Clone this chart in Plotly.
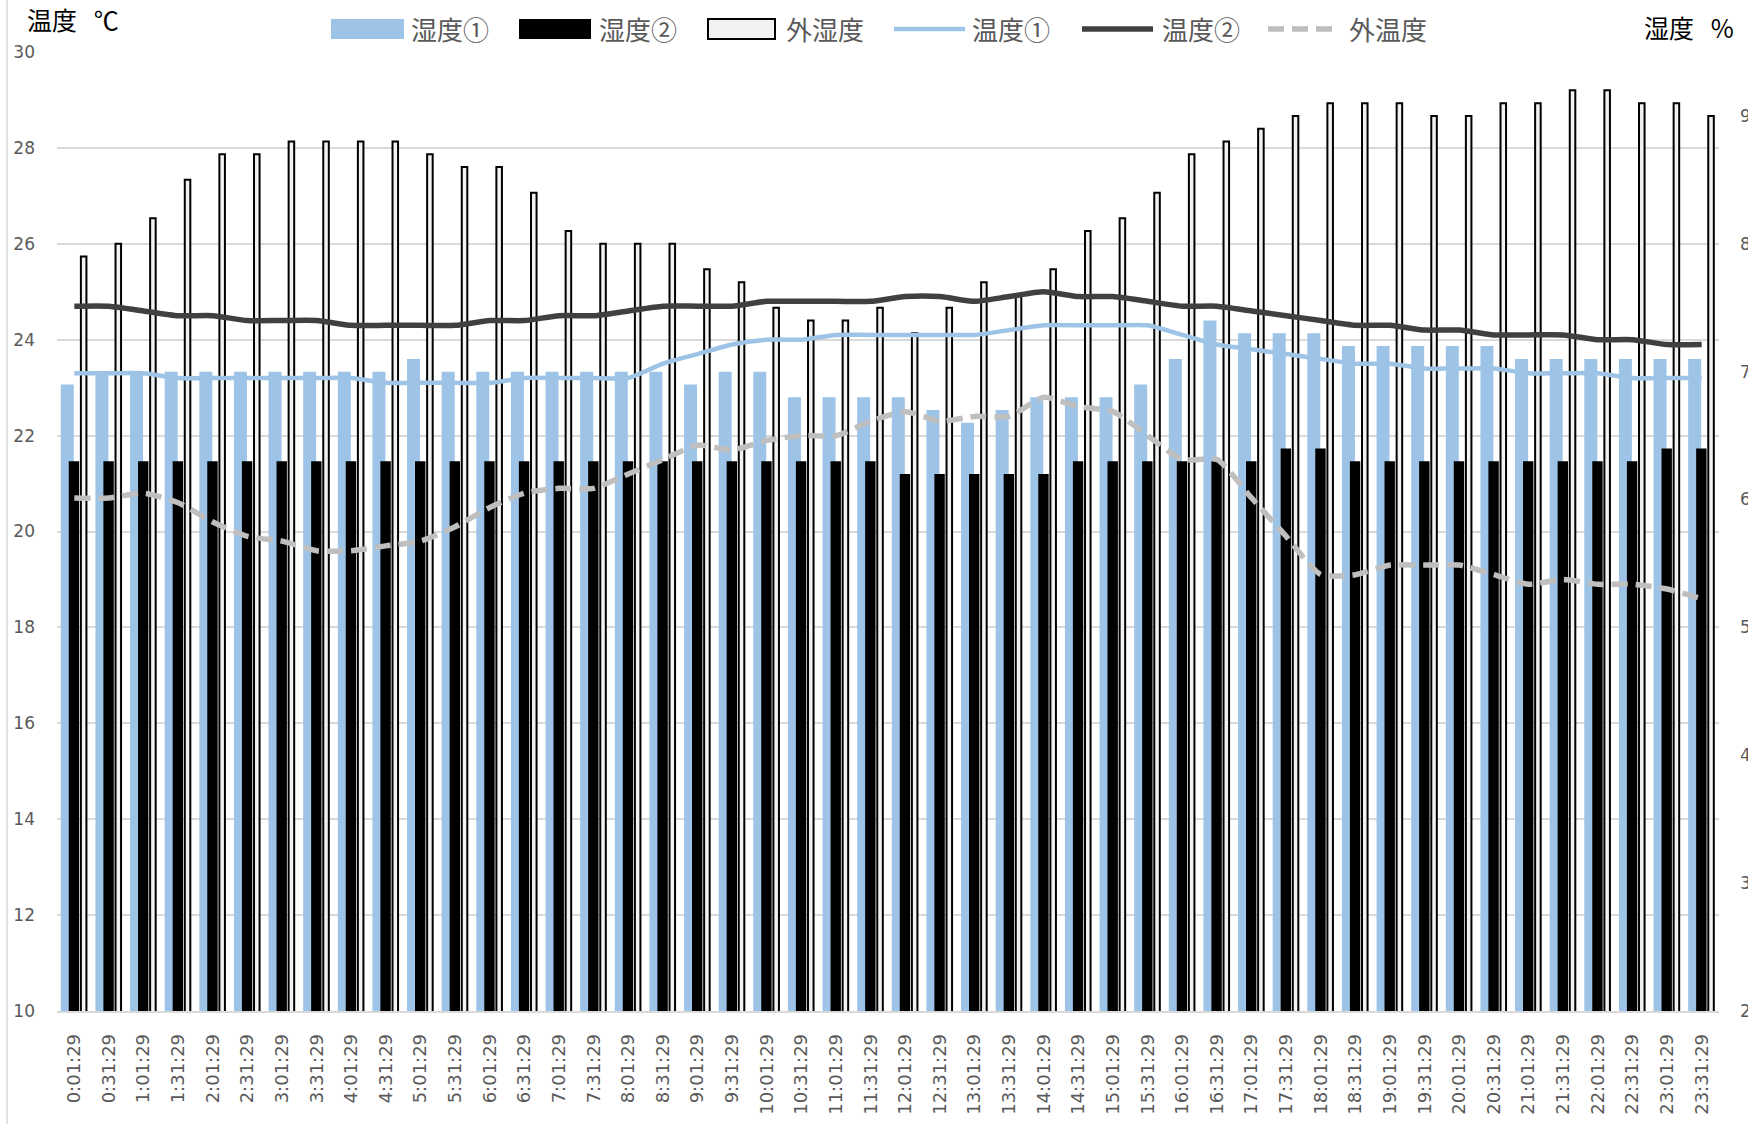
import plotly.graph_objects as go

# ---- data -------------------------------------------------------------
times = [
    "0:01:29", "0:31:29", "1:01:29", "1:31:29", "2:01:29", "2:31:29",
    "3:01:29", "3:31:29", "4:01:29", "4:31:29", "5:01:29", "5:31:29",
    "6:01:29", "6:31:29", "7:01:29", "7:31:29", "8:01:29", "8:31:29",
    "9:01:29", "9:31:29", "10:01:29", "10:31:29", "11:01:29", "11:31:29",
    "12:01:29", "12:31:29", "13:01:29", "13:31:29", "14:01:29", "14:31:29",
    "15:01:29", "15:31:29", "16:01:29", "16:31:29", "17:01:29", "17:31:29",
    "18:01:29", "18:31:29", "19:01:29", "19:31:29", "20:01:29", "20:31:29",
    "21:01:29", "21:31:29", "22:01:29", "22:31:29", "23:01:29", "23:31:29",
]

# humidity (%), right axis
hum1 = [69, 70, 70, 70, 70, 70, 70, 70, 70, 70, 71, 70, 70, 70, 70, 70,
        70, 70, 69, 70, 70, 68, 68, 68, 68, 67, 66, 67, 68, 68, 68, 69,
        71, 74, 73, 73, 73, 72, 72, 72, 72, 72, 71, 71, 71, 71, 71, 71]
hum2 = [63, 63, 63, 63, 63, 63, 63, 63, 63, 63, 63, 63, 63, 63, 63, 63,
        63, 63, 63, 63, 63, 63, 63, 63, 62, 62, 62, 62, 62, 63, 63, 63,
        63, 63, 63, 64, 64, 63, 63, 63, 63, 63, 63, 63, 63, 63, 64, 64]
hum_out = [79, 80, 82, 85, 87, 87, 88, 88, 88, 88, 87, 86, 86, 84, 81, 80,
           80, 80, 78, 77, 75, 74, 74, 75, 73, 75, 77, 76, 78, 81, 82, 84,
           87, 88, 89, 90, 91, 91, 91, 90, 90, 91, 91, 92, 92, 91, 91, 90]

# temperature (°C), left axis
temp1 = [23.3, 23.3, 23.3, 23.2, 23.2, 23.2, 23.2, 23.2, 23.2, 23.1, 23.1, 23.1,
         23.1, 23.2, 23.2, 23.2, 23.2, 23.5, 23.7, 23.9, 24.0, 24.0, 24.1, 24.1,
         24.1, 24.1, 24.1, 24.2, 24.3, 24.3, 24.3, 24.3, 24.1, 23.9, 23.8, 23.7,
         23.6, 23.5, 23.5, 23.4, 23.4, 23.4, 23.3, 23.3, 23.3, 23.2, 23.2, 23.2]
temp2 = [24.7, 24.7, 24.6, 24.5, 24.5, 24.4, 24.4, 24.4, 24.3, 24.3, 24.3, 24.3,
         24.4, 24.4, 24.5, 24.5, 24.6, 24.7, 24.7, 24.7, 24.8, 24.8, 24.8, 24.8,
         24.9, 24.9, 24.8, 24.9, 25.0, 24.9, 24.9, 24.8, 24.7, 24.7, 24.6, 24.5,
         24.4, 24.3, 24.3, 24.2, 24.2, 24.1, 24.1, 24.1, 24.0, 24.0, 23.9, 23.9]
temp_out = [20.7, 20.7, 20.8, 20.6, 20.2, 19.9, 19.8, 19.6, 19.6, 19.7, 19.8, 20.1,
            20.5, 20.8, 20.9, 20.9, 21.2, 21.5, 21.8, 21.7, 21.9, 22.0, 22.0, 22.3,
            22.5, 22.3, 22.4, 22.4, 22.8, 22.6, 22.5, 22.0, 21.5, 21.5, 20.7, 19.9,
            19.1, 19.1, 19.3, 19.3, 19.3, 19.1, 18.9, 19.0, 18.9, 18.9, 18.8, 18.6]

# ---- layout geometry (pixels) -------------------------------------------
W, H = 1748, 1124
PL, PR, PT, PB = 57, 1719, 52, 1011   # plot area edges


def px(x):
    return (x - PL) / (PR - PL)


def py(y):
    return (PB - y) / (PB - PT)


BLUE = "#9DC3E6"
DARK = "#404040"
GREY = "#BFBFBF"
TXT = "#595959"
GRID = "#D9D9D9"
JP = "Noto Sans CJK JP"
NUM = "DejaVu Sans"

fig = go.Figure()

# humidity bars (primary y, drawn underneath)
fig.add_bar(x=times, y=hum1, name="湿度①", yaxis="y",
            marker=dict(color=BLUE, line_width=0),
            offset=-0.39, width=0.375, showlegend=False)
fig.add_bar(x=times, y=hum2, name="湿度②", yaxis="y",
            marker=dict(color="#000000", line_width=0),
            offset=-0.16, width=0.30, showlegend=False)
fig.add_bar(x=times, y=hum_out, name="外湿度", yaxis="y",
            marker=dict(color="#F2F2F2", line=dict(color="#000000", width=2)),
            offset=0.19, width=0.16, showlegend=False)

# temperature lines (overlay axis, drawn on top)
fig.add_scatter(x=times, y=temp1, name="温度①", yaxis="y2", mode="lines",
                line=dict(color=BLUE, width=4.5, shape="spline", smoothing=0.6),
                showlegend=False)
fig.add_scatter(x=times, y=temp2, name="温度②", yaxis="y2", mode="lines",
                line=dict(color=DARK, width=5.5, shape="spline", smoothing=0.6),
                showlegend=False)
fig.add_scatter(x=times, y=temp_out, name="外温度", yaxis="y2", mode="lines",
                line=dict(color=GREY, width=5.5, dash="16px,8px",
                          shape="spline", smoothing=0.6),
                showlegend=False)

shapes = []
annotations = []

# legend row
key_y0, key_y1, key_mid = 39, 19, 29
bar_keys = [
    (331, 404, BLUE, None, "湿度①", 409),
    (519, 591, "#000000", None, "湿度②", 597),
    (708, 775, "#F2F2F2", "#000000", "外湿度", 784),
]
for x0, x1, fill, edge, label, tx in bar_keys:
    shapes.append(dict(type="rect", xref="paper", yref="paper",
                       x0=px(x0), x1=px(x1), y0=py(key_y0), y1=py(key_y1),
                       fillcolor=fill,
                       line=dict(color=edge if edge else fill,
                                 width=2 if edge else 0)))
    annotations.append(dict(text=label, xref="paper", yref="paper",
                            x=px(tx), y=py(key_mid), xanchor="left",
                            yanchor="middle", showarrow=False,
                            font=dict(family=JP, size=26, color=TXT)))

line_keys = [
    (894, 965, BLUE, 4.5, "solid", "温度①", 970),
    (1082, 1153, DARK, 5.5, "solid", "温度②", 1160),
    (1268, 1333, GREY, 5.5, "16px,8px", "外温度", 1347),
]
for x0, x1, col, wd, dash, label, tx in line_keys:
    shapes.append(dict(type="line", xref="paper", yref="paper",
                       x0=px(x0), x1=px(x1), y0=py(key_mid), y1=py(key_mid),
                       line=dict(color=col, width=wd, dash=dash)))
    annotations.append(dict(text=label, xref="paper", yref="paper",
                            x=px(tx), y=py(key_mid), xanchor="left",
                            yanchor="middle", showarrow=False,
                            font=dict(family=JP, size=26, color=TXT)))

# axis titles
annotations.append(dict(text="温度\u00a0\u00a0\u00a0℃", xref="paper", yref="paper",
                        x=px(25), y=py(19), xanchor="left", yanchor="middle",
                        showarrow=False,
                        font=dict(family=JP, size=25, color="#000000")))
annotations.append(dict(text="湿度\u00a0\u00a0\u00a0%", xref="paper", yref="paper",
                        x=px(1736), y=py(27), xanchor="right", yanchor="middle",
                        showarrow=False,
                        font=dict(family=JP, size=25, color="#000000")))

# chart-area border on the left edge
shapes.append(dict(type="line", xref="paper", yref="paper",
                   x0=px(7), x1=px(7), y0=py(H), y1=py(0),
                   line=dict(color=GRID, width=1.5)))

fig.update_layout(
    width=W, height=H, autosize=False,
    margin=dict(l=PL, r=W - PR, t=PT, b=H - PB, pad=0),
    paper_bgcolor="#FFFFFF", plot_bgcolor="#FFFFFF",
    barmode="overlay",
    showlegend=False,
    shapes=shapes,
    annotations=annotations,
    xaxis=dict(type="category", range=[-0.5, 47.5], tickangle=-90,
               tickfont=dict(family=NUM, size=18, color=TXT),
               showgrid=False, showline=True, linecolor=GRID, linewidth=1.5,
               ticks="", ticklabelstandoff=14, automargin=False),
    yaxis=dict(side="right", range=[20, 95], dtick=10, showgrid=False,
               zeroline=False, showline=False, ticks="",
               tickfont=dict(family=NUM, size=17, color=TXT),
               ticklabelstandoff=20, automargin=False),
    yaxis2=dict(side="left", overlaying="y", range=[10, 30], dtick=2,
                showgrid=True, gridcolor=GRID, gridwidth=1.5,
                zeroline=False, showline=False, ticks="",
                tickfont=dict(family=NUM, size=17, color=TXT),
                ticklabelstandoff=21, automargin=False),
)

fig.write_html("out.html")
